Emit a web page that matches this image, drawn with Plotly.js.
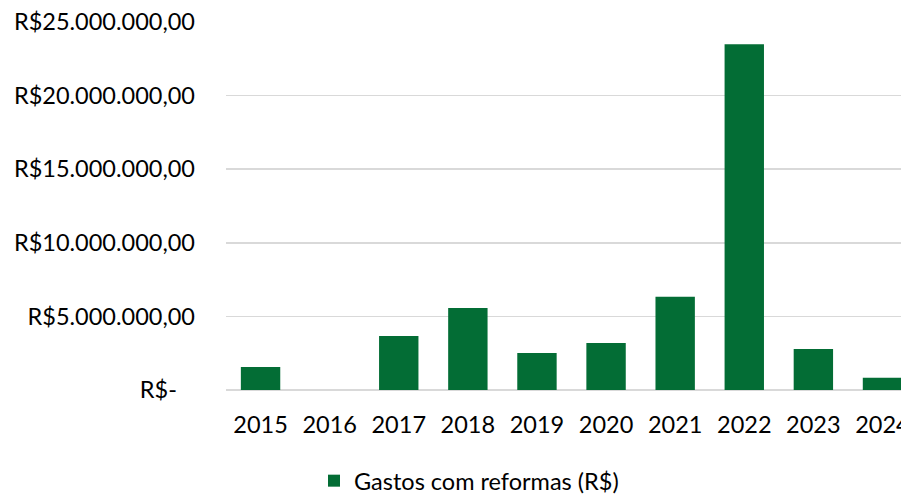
<!DOCTYPE html>
<html>
<head>
<meta charset="utf-8">
<script src="https://cdn.plot.ly/plotly-3.0.1.min.js"></script>
<style>html,body{margin:0;padding:0;overflow:hidden;background:#fff}</style>
</head>
<body>
<div id="chart" style="width:901px;height:494px"></div>
<script>
const years = ['2015','2016','2017','2018','2019','2020','2021','2022','2023','2024'];
const gastos = [1560000, 0, 3670000, 5570000, 2510000, 3190000, 6340000, 23480000, 2780000, 840000];
const yTickVals = [0, 5000000, 10000000, 15000000, 20000000, 25000000];
const yTickText = ['R$-\u00A0\u00A0\u00A0', 'R$5.000.000,00', 'R$10.000.000,00', 'R$15.000.000,00', 'R$20.000.000,00', 'R$25.000.000,00'];
const seriesName = 'Gastos com reformas (R$)';

const font = {family: 'Lato, "Noto Sans", sans-serif', size: 23.5, color: '#000'};

Plotly.newPlot('chart', [{
  type: 'bar',
  x: years.map((_, i) => i),
  y: gastos,
  name: seriesName,
  marker: {color: '#036d35'},
  showlegend: true
}], {
  width: 901, height: 494,
  margin: {l: 226, r: 0, t: 22, b: 104, autoexpand: false},
  paper_bgcolor: '#fff', plot_bgcolor: '#fff',
  font: font,
  bargap: 0.43,
  xaxis: {
    range: [-0.5, 9.268],
    tickvals: years.map((_, i) => i),
    ticktext: years,
    showgrid: false, zeroline: false, showline: false,
    ticks: '', ticklabelstandoff: 18, ticklabeloverflow: 'allow',
    automargin: false,
    tickfont: font, fixedrange: true
  },
  yaxis: {
    range: [0, 25000000],
    tickvals: yTickVals, ticktext: yTickText,
    showgrid: true, gridcolor: '#d9d9d9', gridwidth: 1.5,
    zeroline: true, zerolinecolor: '#d9d9d9', zerolinewidth: 1.5,
    showline: false, ticks: '', ticklabelstandoff: 30,
    automargin: false,
    tickfont: font, fixedrange: true
  },
  showlegend: true,
  legend: {
    orientation: 'h', x: 0.36, xanchor: 'center', y: -0.247, yanchor: 'middle',
    font: font, itemwidth: 30
  }
}, {displayModeBar: false, staticPlot: true});
</script>
</body>
</html>
